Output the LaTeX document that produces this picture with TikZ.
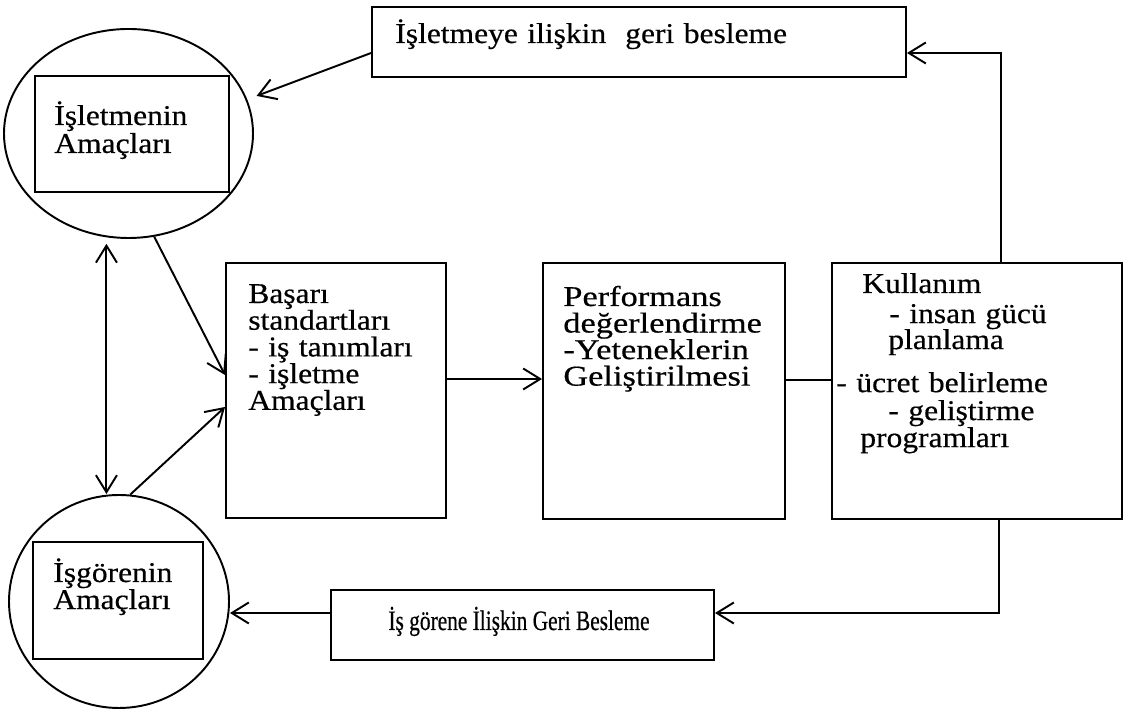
\documentclass[tikz,border=0pt]{standalone}
\usepackage{fontspec}
\setmainfont{Liberation Serif}[FakeStretch=1.1,FakeBold=0.5]
\newfontfamily\perffont{Liberation Serif}[FakeStretch=1.2,FakeBold=0.5]
\newfontfamily\narrowfont{Liberation Serif}[FakeStretch=0.76,FakeBold=0.5]
\usetikzlibrary{shapes,arrows.meta,positioning,calc}

\tikzset{
  box/.style={draw, line width=1.1pt, inner sep=0pt},
  circ/.style={draw, ellipse, line width=1.1pt, inner sep=0pt},
  txt/.style={anchor=base west, inner sep=0pt, align=left, text width=5cm,
    font=\fontsize{16.3}{15.2}\selectfont},
  conn/.style={line width=1.1pt},
  >={Straight Barb[length=0.34cm,width=0.42cm]}
}

\begin{document}
\begin{tikzpicture}
  \useasboundingbox (0,0) rectangle (22.46,14.18);

  % feedback boxes
  \node[box, minimum width=10.68cm, minimum height=1.40cm] (topfb) at (12.78,13.34) {};
  \node[txt, text width=10cm] (topfbtxt) at (7.90,13.32) {İşletmeye ilişkin\ \ geri besleme};
  \node[box, minimum width=7.66cm, minimum height=1.40cm] (botfb) at (10.45,1.68) {};
  \node[anchor=base, inner sep=0pt, font=\narrowfont\fontsize{16}{16}\selectfont] (botfbtxt) at (10.38,1.58) {İş görene İlişkin Geri Besleme};

  % goals of firm and employee
  \node[circ, minimum width=4.98cm, minimum height=4.18cm] (topcirc) at (2.57,11.51) {};
  \node[box, minimum width=3.88cm, minimum height=2.32cm] (topin) at (2.64,11.50) {};
  \node[txt, font=\fontsize{16.3}{15.9}\selectfont] (topintxt) at (1.08,11.68) {İşletmenin\\Amaçları};

  \node[circ, minimum width=4.40cm, minimum height=4.26cm] (botcirc) at (2.38,2.15) {};
  \node[box, minimum width=3.40cm, minimum height=2.34cm] (botin) at (2.36,2.17) {};
  \node[txt, font=\fontsize{16.3}{15.4}\selectfont] (botintxt) at (1.06,2.54) {İşgörenin\\Amaçları};

  % main chain
  \node[box, minimum width=4.40cm, minimum height=5.10cm] (basari) at (6.72,6.37) {};
  \node[txt] (basaritxt) at (4.96,8.12) {Başarı\\standartları\\- iş tanımları\\- işletme\\Amaçları};

  \node[box, minimum width=4.84cm, minimum height=5.12cm] (perf) at (13.28,6.36) {};
  \node[txt, font=\perffont\fontsize{16.3}{15.1}\selectfont] (perftxt) at (11.26,8.06) {Performans\\değerlendirme\\-Yeteneklerin\\Geliştirilmesi};

  \node[box, minimum width=5.80cm, minimum height=5.12cm] (kull) at (19.54,6.36) {};
  \node[txt, text width=5.6cm, font=\fontsize{16.3}{15.4}\selectfont] (kulltxt) at (16.72,8.32)
    {\hspace*{0.52cm}Kullanım\\[1.7pt]
     \hspace*{1.06cm}- insan gücü\\[-0.6pt]
     \hspace*{1.04cm}planlama\\[9.1pt]
     - ücret belirleme\\[0.5pt]
     \hspace*{1.04cm}- geliştirme\\
     \hspace*{0.48cm}programları};

  % connectors
  \coordinate (bp) at ([yshift=0.23cm]basari.east);
  \coordinate (pk) at ([yshift=0.22cm]perf.east);
  \coordinate (bf) at ([yshift=0.24cm]botfb.west);

  \draw[conn, ->] (bp) -- (bp -| perf.west);
  \draw[conn] (pk) -- (pk -| kull.west);
  \draw[conn, ->] ([xshift=0.48cm]kull.north) |- ([yshift=-0.22cm]topfb.east);
  \draw[conn, ->] ([xshift=0.44cm]kull.south) |- ([yshift=0.24cm]botfb.east);
  \draw[conn, ->, shorten >=0.2cm] ([yshift=-0.22cm]topfb.west) -- (topcirc.16);
  \draw[conn, ->] (bf) -- (bf -| botcirc.east);
  \draw[conn, ->] (topcirc.-76) -- ([yshift=0.31cm]basari.west);
  \draw[conn, ->] (botcirc.84) -- ([yshift=-0.33cm]basari.west);
  \draw[conn, <->, shorten <=0.13cm] (topcirc.-102) -- (topcirc.-102 |- botcirc.north);
\end{tikzpicture}
\end{document}
